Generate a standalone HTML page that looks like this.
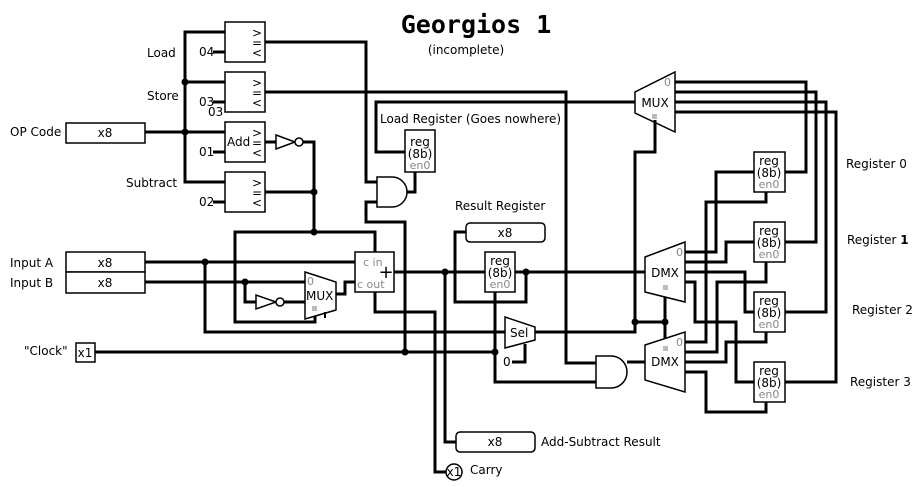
<!DOCTYPE html>
<html><head><meta charset="utf-8"><style>
html,body{margin:0;padding:0;background:#fff;}
svg{display:block;font-family:"DejaVu Sans","Liberation Sans",sans-serif;}
.w{stroke:#000;stroke-width:3;fill:none;stroke-linejoin:miter;}
.c{stroke:#000;stroke-width:1.5;fill:#fff;}
.t{font-size:12px;fill:#000;}
.g{font-size:11px;fill:#888;}
.j{fill:#000;}
</style></head><body>
<svg width="922" height="487" viewBox="0 0 922 487" xmlns="http://www.w3.org/2000/svg">
<!-- Title -->
<text x="476" y="33" font-family="DejaVu Sans Mono,Liberation Mono,monospace" font-size="25" font-weight="bold" text-anchor="middle">Georgios 1</text>
<text x="466" y="54" class="t" font-size="11" text-anchor="middle">(incomplete)</text>

<!-- Opcode bus -->
<polyline class="w" points="225,32 185,32 185,182 225,182"/>
<line class="w" x1="185" y1="82" x2="225" y2="82"/>
<line class="w" x1="145" y1="132" x2="225" y2="132"/>
<circle class="j" cx="185" cy="82" r="3.5"/><circle class="j" cx="185" cy="132" r="3.5"/>
<rect class="c" x="66" y="123" width="79" height="20"/>
<text x="105" y="137" class="t" text-anchor="middle">x8</text>
<text x="10" y="136" class="t">OP Code</text>
<text x="147" y="57" class="t">Load</text>
<text x="147" y="100" class="t">Store</text>
<text x="126" y="187" class="t">Subtract</text>

<!-- compare boxes -->
<g>
<rect class="c" x="225" y="22" width="40" height="40"/>
<rect class="c" x="225" y="72" width="40" height="40"/>
<rect class="c" x="225" y="122" width="40" height="40"/>
<rect class="c" x="225" y="172" width="40" height="40"/>
</g>
<g class="t" font-size="11">
<text x="252" y="37">&gt;</text><text x="252" y="47">=</text><text x="252" y="57">&lt;</text>
<text x="252" y="87">&gt;</text><text x="252" y="97">=</text><text x="252" y="107">&lt;</text>
<text x="252" y="137">&gt;</text><text x="252" y="147">=</text><text x="252" y="157">&lt;</text>
<text x="252" y="187">&gt;</text><text x="252" y="197">=</text><text x="252" y="207">&lt;</text>
<text x="227" y="146">Add</text>
<text x="199" y="56">04</text><text x="199" y="106">03</text><text x="208" y="116">03</text>
<text x="199" y="156">01</text><text x="199" y="206">02</text>
</g>
<line class="w" x1="213" y1="52" x2="225" y2="52"/>
<line class="w" x1="213" y1="102" x2="225" y2="102"/>
<line class="w" x1="213" y1="152" x2="225" y2="152"/>
<line class="w" x1="213" y1="202" x2="225" y2="202"/>

<!-- Load eq -> AND -->
<polyline class="w" points="265,42 366,42 366,182 377,182"/>
<polyline class="w" points="377,202 366,202 366,222 405,222 405,352"/>
<!-- Store eq -->
<polyline class="w" points="265,92 566,92 566,363 596,363"/>
<!-- Add eq -> NOT -->
<line class="w" x1="265" y1="142" x2="276" y2="142"/>
<polygon class="c" points="276,135 276,149 295,142"/>
<circle class="c" cx="299" cy="142" r="4"/>
<polyline class="w" points="303,142 314,142 314,232"/>
<line class="w" x1="265" y1="192" x2="314" y2="192"/>
<circle class="j" cx="314" cy="192" r="3.5"/><circle class="j" cx="314" cy="232" r="3.5"/>

<!-- AND gate for load reg -->
<path class="c" d="M377,177 L392,177 A15,15 0 0 1 392,207 L377,207 Z"/>
<polyline class="w" points="407,192 415,192 415,172"/>
<!-- Load register -->
<polyline class="w" points="635,102 376,102 376,152 405,152"/>
<text x="380" y="123" class="t">Load Register (Goes nowhere)</text>
<rect class="c" x="405" y="130" width="30" height="42"/>
<text x="420" y="146" class="t" text-anchor="middle">reg</text>
<text x="420" y="158" class="t" text-anchor="middle">(8b)</text>
<text x="420" y="169" class="g" text-anchor="middle">en0</text>

<!-- Inputs -->
<text x="10" y="267" class="t">Input A</text>
<text x="10" y="287" class="t">Input B</text>
<rect class="c" x="66" y="252" width="79" height="20"/>
<rect class="c" x="66" y="272" width="79" height="21"/>
<text x="105" y="267" class="t" text-anchor="middle">x8</text>
<text x="105" y="287" class="t" text-anchor="middle">x8</text>
<line class="w" x1="145" y1="262" x2="355" y2="262"/>
<line class="w" x1="145" y1="282" x2="305" y2="282"/>
<polyline class="w" points="205,262 205,332 505,332"/>
<circle class="j" cx="205" cy="262" r="3.5"/>
<polyline class="w" points="245,282 245,302 256,302"/>
<circle class="j" cx="245" cy="282" r="3.5"/>
<polygon class="c" points="256,295 256,309 276,302"/>
<circle class="c" cx="280" cy="302" r="4"/>
<line class="w" x1="284" y1="302" x2="305" y2="302"/>
<!-- loop -->
<polyline class="w" points="375,252 375,232 235,232 235,322 315,322 315,312"/>
<!-- small MUX -->
<polygon class="c" points="305,272 336,282 336,310 305,319"/>
<text x="307" y="285" class="g">0</text>
<text x="306" y="300" class="t" font-size="11">MUX</text>
<rect x="312" y="306" width="5" height="5" fill="#bbb"/>
<polyline class="w" points="336,294 345,294 345,282 355,282"/>
<line x1="325" y1="312" x2="325" y2="318" stroke="#000" stroke-width="2"/>
<!-- Adder -->
<rect class="c" x="355" y="252" width="39" height="40"/>
<text x="363" y="266" class="g">c in</text>
<text x="357" y="288" class="g">c out</text>
<text x="386" y="278" font-size="18" text-anchor="middle">+</text>
<line class="w" x1="394" y1="272" x2="485" y2="272"/>
<circle class="j" cx="445" cy="272" r="3.5"/>
<polyline class="w" points="445,272 445,442 456,442"/>
<polyline class="w" points="375,292 375,312 435,312 435,472 446,472"/>
<!-- Clock -->
<text x="24" y="355" class="t">"Clock"</text>
<rect class="c" x="76" y="343" width="19" height="19"/>
<text x="85" y="357" class="t" text-anchor="middle">x1</text>
<line class="w" x1="95" y1="352" x2="495" y2="352"/>
<circle class="j" cx="405" cy="352" r="3.5"/><circle class="j" cx="495" cy="352" r="3.5"/>
<!-- Result register -->
<text x="455" y="210" class="t">Result Register</text>
<rect class="c" x="466" y="223" width="79" height="19" rx="4"/>
<text x="505" y="237" class="t" text-anchor="middle">x8</text>
<polyline class="w" points="466,232 455,232 455,302 526,302 526,272"/>
<rect class="c" x="485" y="252" width="30" height="40"/>
<text x="500" y="265" class="t" text-anchor="middle">reg</text>
<text x="500" y="277" class="t" text-anchor="middle">(8b)</text>
<text x="500" y="288" class="g" text-anchor="middle">en0</text>
<line class="w" x1="515" y1="272" x2="645" y2="272"/>
<circle class="j" cx="526" cy="272" r="3.5"/>
<polyline class="w" points="495,292 495,382 596,382"/>
<!-- Sel -->
<polygon class="c" points="505,317 535,327 535,340 505,348"/>
<text x="510" y="337" class="t">Sel</text>
<text x="503" y="366" class="t">0</text>
<polyline class="w" points="512,362 525,362 525,344"/>
<polyline class="w" points="535,332 635,332 635,322"/>
<!-- outputs -->
<rect class="c" x="456" y="432" width="79" height="20" rx="4"/>
<text x="495" y="446" class="t" text-anchor="middle">x8</text>
<text x="541" y="446" class="t">Add-Subtract Result</text>
<circle class="c" cx="454" cy="472" r="8"/>
<text x="454" y="476" class="t" font-size="11" text-anchor="middle">x1</text>
<text x="470" y="474" class="t">Carry</text>

<!-- Big MUX -->
<polygon class="c" points="635,92 675,72 675,132 635,113"/>
<text x="655" y="107" class="t" text-anchor="middle">MUX</text>
<text x="664" y="86" class="g">0</text>
<rect x="652" y="114" width="5" height="5" fill="#bbb"/>
<polyline class="w" points="655,120 655,152 635,152 635,322 665,322"/>
<circle class="j" cx="635" cy="322" r="3.5"/><circle class="j" cx="665" cy="322" r="3.5"/>
<line class="w" x1="665" y1="292" x2="665" y2="350"/>
<polyline class="w" points="675,82 806,82 806,172 785,172"/>
<polyline class="w" points="675,92 816,92 816,242 785,242"/>
<polyline class="w" points="675,102 826,102 826,312 785,312"/>
<polyline class="w" points="675,112 836,112 836,382 785,382"/>

<!-- AND for store -->
<path class="c" d="M596,356 L611,356 A16,16 0 0 1 611,388 L596,388 Z"/>
<line class="w" x1="627" y1="362" x2="645" y2="362"/>

<!-- DMX1 -->
<polygon class="c" points="645,257 685,242 685,302 645,292"/>
<text x="665" y="277" class="t" text-anchor="middle">DMX</text>
<text x="676" y="256" class="g">0</text>
<rect x="663" y="285" width="5" height="5" fill="#bbb"/>
<!-- DMX2 -->
<polygon class="c" points="645,345 685,332 685,392 645,380"/>
<text x="665" y="366" class="t" text-anchor="middle">DMX</text>
<text x="676" y="346" class="g">0</text>
<rect x="663" y="346" width="5" height="5" fill="#bbb"/>

<!-- DMX1 data outputs -->
<polyline class="w" points="685,252 716,252 716,172 754,172"/>
<polyline class="w" points="685,262 726,262 726,242 754,242"/>
<polyline class="w" points="685,272 745,272 745,312 754,312"/>
<polyline class="w" points="685,282 695,282 695,322 736,322 736,382 754,382"/>
<!-- DMX2 enable outputs -->
<polyline class="w" points="685,342 706,342 706,202 766,202 766,192"/>
<polyline class="w" points="685,352 717,352 717,282 766,282 766,262"/>
<polyline class="w" points="685,362 726,362 726,342 766,342 766,332"/>
<polyline class="w" points="685,372 706,372 706,412 766,412 766,402"/>

<!-- Registers -->
<g>
<rect class="c" x="754" y="152" width="31" height="40"/>
<rect class="c" x="754" y="222" width="31" height="40"/>
<rect class="c" x="754" y="292" width="31" height="40"/>
<rect class="c" x="754" y="362" width="31" height="40"/>
</g>
<g class="t" text-anchor="middle">
<text x="769" y="165">reg</text><text x="769" y="177">(8b)</text>
<text x="769" y="235">reg</text><text x="769" y="247">(8b)</text>
<text x="769" y="305">reg</text><text x="769" y="317">(8b)</text>
<text x="769" y="375">reg</text><text x="769" y="387">(8b)</text>
</g>
<g class="g" text-anchor="middle">
<text x="769" y="188">en0</text><text x="769" y="258">en0</text>
<text x="769" y="328">en0</text><text x="769" y="398">en0</text>
</g>
<text x="846" y="168" class="t">Register 0</text>
<text x="847" y="244" class="t">Register <tspan font-weight="bold">1</tspan></text>
<text x="852" y="314" class="t">Register 2</text>
<text x="850" y="386" class="t">Register 3</text>
</svg>
</body></html>
